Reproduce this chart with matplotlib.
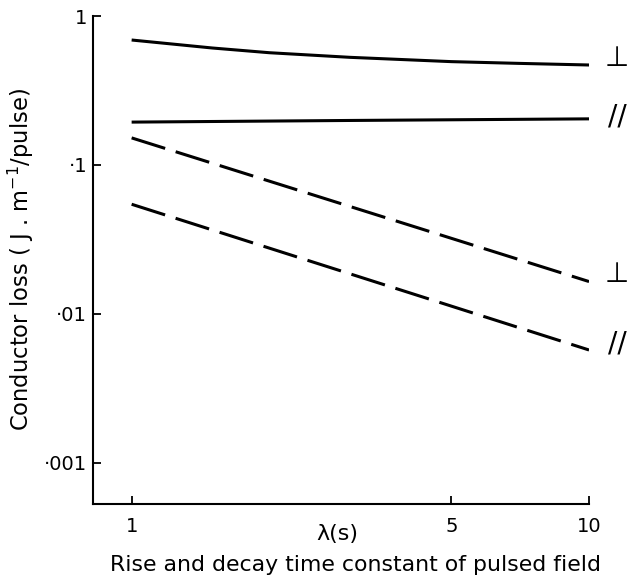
import matplotlib
matplotlib.use("Agg")
import matplotlib.pyplot as plt
from matplotlib.ticker import FixedLocator, FixedFormatter, NullLocator

# ---- data ----
lam_perp_solid = [1, 1.5, 2, 3, 5, 7, 10]
loss_perp_solid = [0.69, 0.61, 0.567, 0.528, 0.494, 0.481, 0.469]

lam_par_solid = [1, 3, 10]
loss_par_solid = [0.194, 0.199, 0.204]

lam_perp_dash = [1, 10]
loss_perp_dash = [0.152, 0.0165]

lam_par_dash = [1, 10]
loss_par_dash = [0.0545, 0.00573]

x_ticks = [1, 5, 10]
x_ticklabels = ["1", "5", "10"]
y_ticks = [0.001, 0.01, 0.1, 1]
y_ticklabels = ["·001", "·01", "·1", "1"]

perp_label = "⊥"
par_label = "//"

plt.rcParams['font.family'] = ['DejaVu Sans']

fig = plt.figure(figsize=(6.31, 5.82), dpi=100)
ax = fig.add_axes([0.1469, 0.134, 0.7866, 0.8385])

lw = 2.2
ax.plot(lam_perp_solid, loss_perp_solid, color='black', lw=lw, solid_capstyle='butt')
ax.plot(lam_par_solid, loss_par_solid, color='black', lw=lw, solid_capstyle='butt')
ax.plot(lam_perp_dash, loss_perp_dash, color='black', lw=lw, linestyle=(0, (11.5, 3.6)))
ax.plot(lam_par_dash, loss_par_dash, color='black', lw=lw, linestyle=(0, (11.5, 3.6)))

ax.set_xscale('log')
ax.set_yscale('log')
ax.set_xlim(0.822, 10)
ax.set_ylim(0.00053, 1)

ax.xaxis.set_major_locator(FixedLocator(x_ticks))
ax.xaxis.set_major_formatter(FixedFormatter(x_ticklabels))
ax.xaxis.set_minor_locator(NullLocator())
ax.yaxis.set_major_locator(FixedLocator(y_ticks))
ax.yaxis.set_major_formatter(FixedFormatter(y_ticklabels))
ax.yaxis.set_minor_locator(NullLocator())

for s in ['top', 'right']:
    ax.spines[s].set_visible(False)
for s in ['left', 'bottom']:
    ax.spines[s].set_linewidth(1.5)

ax.tick_params(axis='both', which='major', direction='in', length=5.5, width=1.3,
               labelsize=14)
ax.tick_params(axis='x', pad=9)
ax.tick_params(axis='y', pad=4)

# right-hand orientation labels
ends = [
    (lam_perp_solid[-1], loss_perp_solid[-1], perp_label, 7),
    (lam_par_solid[-1], loss_par_solid[-1], par_label, 2),
    (lam_perp_dash[-1], loss_perp_dash[-1], perp_label, 8),
    (lam_par_dash[-1], loss_par_dash[-1], par_label, 6),
]
for x, y, t, dy in ends:
    ax.annotate(t, xy=(x, y), xytext=(28, dy), textcoords='offset pixels',
                ha='center', va='center', fontsize=20, annotation_clip=False)

ax.set_ylabel("Conductor loss ( J . m$^{-1}$/pulse)", fontsize=16.3)
ax.yaxis.set_label_coords(-0.114, 0.5)

fig.text(337 / 631, 1 - 534 / 582, "λ(s)", ha='center', va='center', fontsize=16)
fig.text(356 / 631, 1 - 565 / 582, "Rise and decay time constant of pulsed field",
         ha='center', va='center', fontsize=15.8)

fig.savefig("out.png", dpi=100)
